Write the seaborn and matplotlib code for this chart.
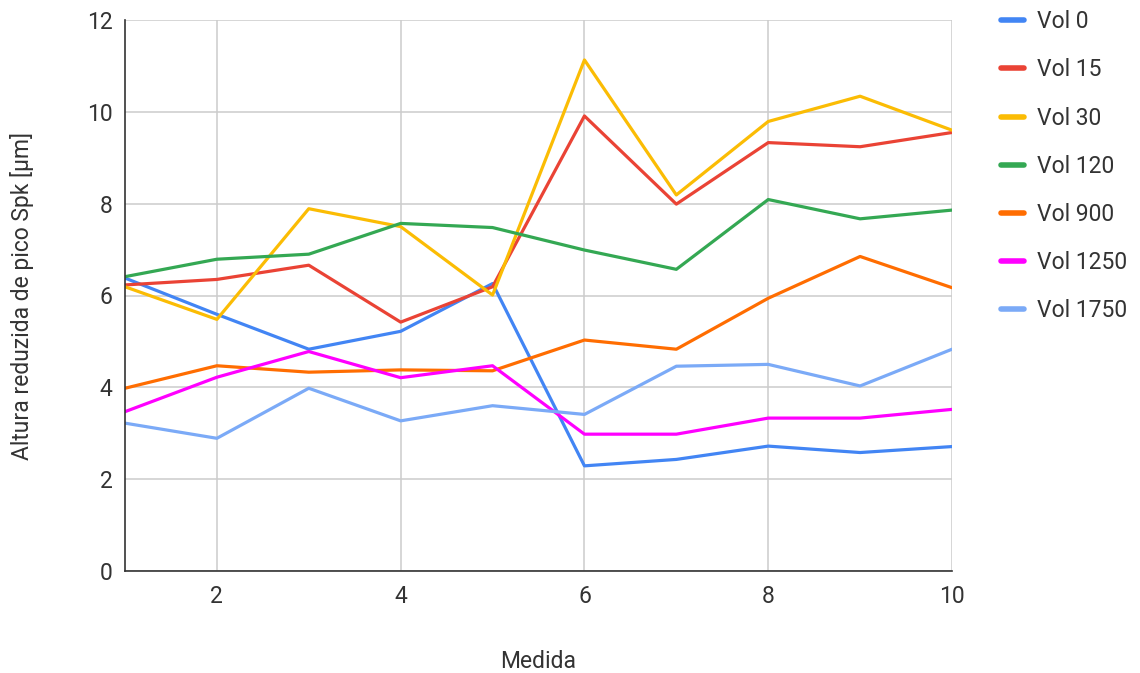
import matplotlib
matplotlib.use("Agg")
import matplotlib.pyplot as plt
import seaborn as sns
import pandas as pd

# Measurement index
medida = [1, 2, 3, 4, 5, 6, 7, 8, 9, 10]

# Spk values (µm) per volume
vol_0 = [6.38, 5.59, 4.83, 5.22, 6.26, 2.29, 2.43, 2.72, 2.58, 2.71]
vol_15 = [6.23, 6.35, 6.66, 5.42, 6.19, 9.91, 7.99, 9.33, 9.24, 9.55]
vol_30 = [6.19, 5.48, 7.89, 7.50, 6.01, 11.13, 8.19, 9.79, 10.34, 9.60]
vol_120 = [6.41, 6.79, 6.90, 7.57, 7.48, 6.99, 6.57, 8.09, 7.67, 7.86]
vol_900 = [3.98, 4.47, 4.33, 4.38, 4.36, 5.03, 4.83, 5.94, 6.85, 6.17]
vol_1250 = [3.47, 4.22, 4.78, 4.21, 4.47, 2.98, 2.98, 3.33, 3.33, 3.52]
vol_1750 = [3.22, 2.89, 3.98, 3.27, 3.60, 3.41, 4.46, 4.50, 4.03, 4.83]

series_names = ["Vol 0", "Vol 15", "Vol 30", "Vol 120", "Vol 900", "Vol 1250", "Vol 1750"]
series_values = [vol_0, vol_15, vol_30, vol_120, vol_900, vol_1250, vol_1750]
colors = ["#4285F4", "#EA4335", "#FBBC04", "#34A853", "#FF6D01", "#FF00FF", "#7BAAF7"]

rows = []
for name, vals in zip(series_names, series_values):
    for m, v in zip(medida, vals):
        rows.append({"Medida": m, "Spk": v, "Serie": name})
df = pd.DataFrame(rows)

sns.set_theme(style="white")
plt.rcParams["font.family"] = ["Roboto", "DejaVu Sans"]

FS = 16.5
TXT = "#333333"

fig = plt.figure(figsize=(11.4, 6.73), dpi=100)
ax = fig.add_axes([125 / 1140, 1 - 571 / 673, (952 - 125) / 1140, (571 - 20) / 673])

sns.lineplot(data=df, x="Medida", y="Spk", hue="Serie", hue_order=series_names,
             palette=colors, linewidth=2.3, ax=ax, legend=True)

ax.set_xlim(1, 10)
ax.set_ylim(0, 12)
ax.set_xticks([2, 4, 6, 8, 10])
ax.set_yticks([0, 2, 4, 6, 8, 10, 12])
ax.grid(True, color="#cccccc", linewidth=1.1)
ax.set_axisbelow(True)
for side in ["top", "right"]:
    ax.spines[side].set_visible(False)
ax.spines["left"].set_color("#333333")
ax.spines["bottom"].set_color("#333333")
ax.spines["left"].set_linewidth(1.2)
ax.spines["bottom"].set_linewidth(1.2)

ax.tick_params(axis="both", labelsize=FS, colors=TXT, length=0)
ax.tick_params(axis="x", pad=10)
ax.tick_params(axis="y", pad=9)
ax.set_xlabel("Medida", fontsize=FS, color=TXT, labelpad=30)
ax.set_ylabel("Altura reduzida de pico Spk [µm]", fontsize=FS, color=TXT, labelpad=38)

handles, labels = ax.get_legend_handles_labels()
ax.legend(handles, labels, loc="upper left", bbox_to_anchor=(992 / 1140, 1 - 1 / 673),
          bbox_transform=fig.transFigure, frameon=False, fontsize=FS,
          handlelength=1.0, handletextpad=0.55, labelspacing=1.1, borderaxespad=0)
for line in ax.get_legend().get_lines():
    line.set_linewidth(4)
for t in ax.get_legend().get_texts():
    t.set_color(TXT)

fig.savefig("out.png", dpi=100)
